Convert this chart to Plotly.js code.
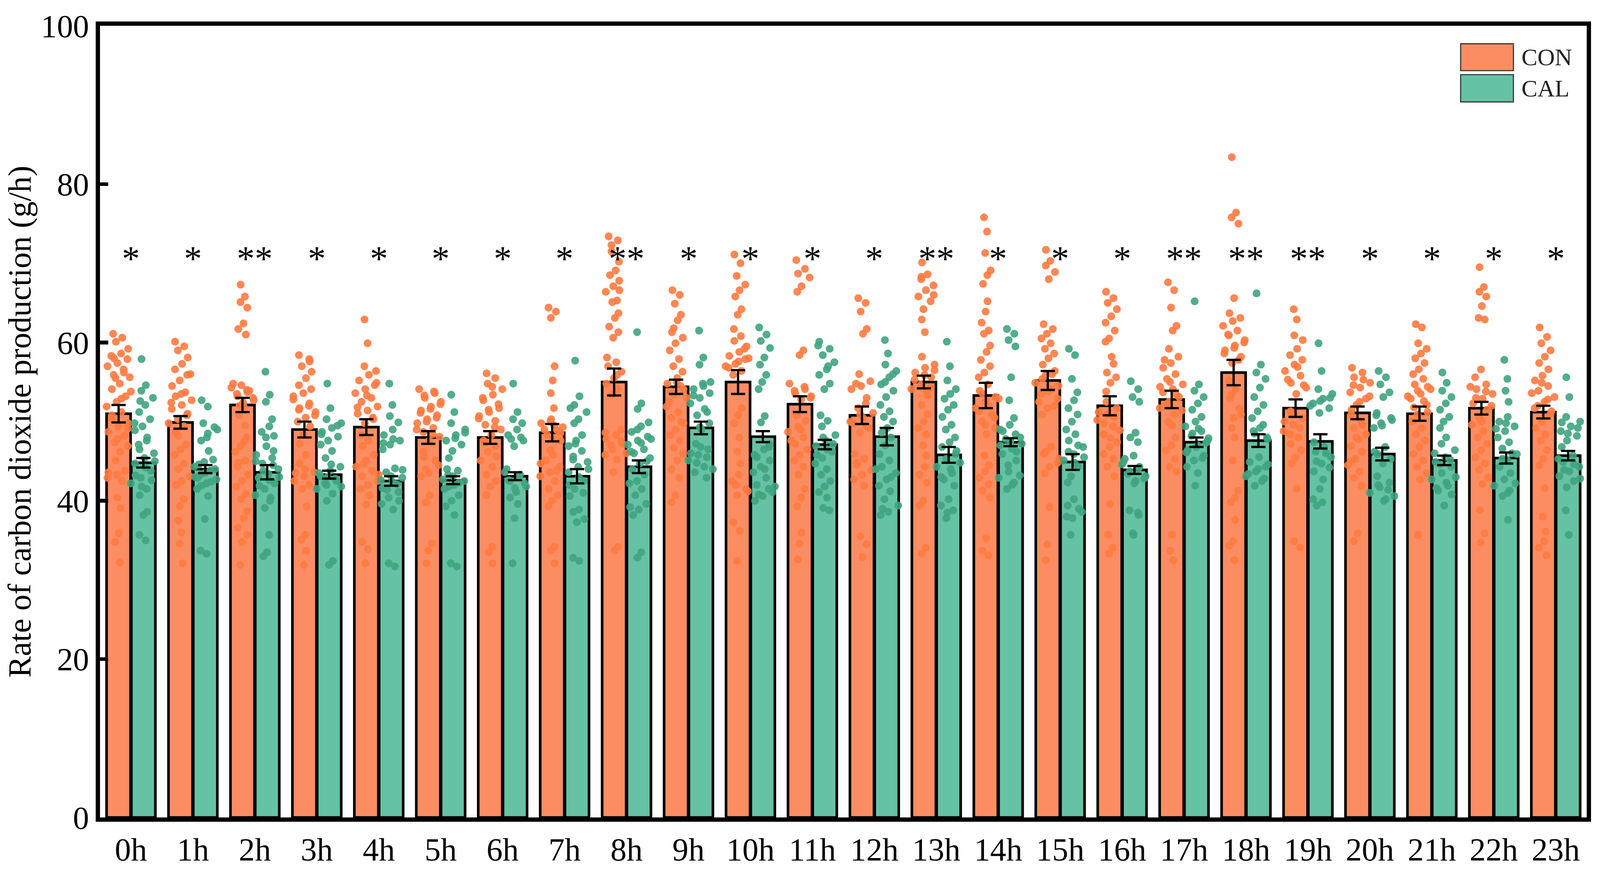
<!DOCTYPE html>
<html>
<head>
<meta charset="utf-8">
<script src="https://cdn.plot.ly/plotly-3.0.1.min.js"></script>
<style>
  html, body { margin: 0; padding: 0; background: #fff; overflow: hidden; }
</style>
</head>
<body>
<div id="chart"></div>
<script>
const hours = ['0h', '1h', '2h', '3h', '4h', '5h', '6h', '7h', '8h', '9h', '10h', '11h',
  '12h', '13h', '14h', '15h', '16h', '17h', '18h', '19h', '20h', '21h', '22h', '23h'];

// bar heights (mean) and error (SEM)
const conMean = [51.0, 49.9, 52.1, 49.0, 49.3, 48.0, 48.0, 48.6, 55.0, 54.4, 55.0, 52.2,
  50.8, 55.0, 53.3, 55.2, 52.0, 52.8, 56.2, 51.7, 51.1, 51.0, 51.7, 51.2];
const calMean = [44.8, 44.0, 43.6, 43.3, 42.5, 42.6, 43.1, 43.1, 44.3, 49.2, 48.1, 47.1,
  48.1, 45.8, 47.4, 44.9, 43.9, 47.4, 47.6, 47.5, 45.9, 45.1, 45.4, 45.7];
const conErr = [1.1, 0.8, 0.9, 1.0, 1.0, 0.8, 0.8, 1.1, 1.7, 0.9, 1.5, 1.0,
  1.1, 0.8, 1.6, 1.2, 1.2, 1.1, 1.6, 1.1, 0.8, 0.9, 0.8, 0.8];
const calErr = [0.6, 0.5, 0.9, 0.5, 0.6, 0.5, 0.5, 0.9, 0.8, 0.8, 0.7, 0.6,
  1.1, 1.0, 0.5, 1.0, 0.5, 0.6, 0.8, 0.9, 0.8, 0.6, 0.7, 0.6];
const sigMarks = ['*', '*', '**', '*', '*', '*', '*', '*', '**', '*', '*', '*',
  '*', '**', '*', '*', '*', '**', '**', '**', '*', '*', '*', '*'];

// individual observations per hour (approximate, read from the dot clouds)
const conPoints = [
  [61.1,60.6,60.1,59.2,58.6,58.3,57.9,57.4,57.0,56.6,55.9,55.6,54.8,54.1,53.2,52.5,51.9,51.2,50.3,49.8,49.4,48.7,48.2,47.4,46.9,46.2,45.1,43.8,43.3,42.9,42.5,40.4,39.1,35.9,34.8,32.2,55.5,53.8,52.9,50.8,49.1,47.8,43.6,56.2,58.0],
  [60.1,59.5,59.0,58.1,57.3,56.6,55.9,55.2,54.5,53.7,53.2,52.7,52.1,51.6,51.0,50.3,49.8,49.4,48.7,47.1,46.5,45.8,44.7,44.0,43.1,42.5,42.0,40.2,39.3,37.5,36.0,34.6,32.1,53.5,52.4,50.8,48.2,56.0],
  [67.3,65.8,65.1,64.4,62.4,61.7,61.0,54.6,54.3,53.7,53.2,52.7,51.9,50.8,48.0,46.9,46.2,45.1,44.3,43.3,42.5,41.8,40.9,40.2,38.7,37.8,36.6,35.7,34.8,31.9,54.0,53.5,53.0,52.4,54.8,53.9,52.0,49.5,47.5,44.8],
  [58.4,57.9,57.0,56.3,55.5,54.6,54.1,53.6,52.8,52.3,51.7,51.2,50.5,50.0,49.4,48.3,47.2,45.8,44.7,43.6,43.1,42.5,42.0,41.5,39.3,35.7,35.1,33.7,31.9,53.2,52.0,51.5,50.8,44.0,43.5,57.6],
  [62.9,59.9,57.0,56.4,55.9,55.2,54.6,54.1,53.6,53.0,52.5,51.9,51.4,51.0,50.3,49.8,48.3,47.6,46.9,45.8,45.1,44.3,43.8,43.1,42.5,42.0,41.5,40.7,39.5,34.8,33.9,32.1,54.9,53.3,51.8,50.5,44.6,43.3],
  [54.1,53.6,53.0,52.5,51.9,51.4,50.8,50.3,49.8,49.2,48.7,48.1,47.6,46.2,45.1,44.0,43.1,40.7,39.8,34.6,33.7,32.1,53.8,53.3,52.2,51.6,51.1,50.5,50.0,49.0,48.4,45.5,44.5,43.5],
  [56.1,55.5,54.8,54.1,53.4,52.7,51.7,51.2,50.7,50.1,49.6,49.0,48.3,47.6,46.9,46.2,45.1,44.3,43.3,42.5,41.8,40.7,34.2,33.5,32.1,54.4,53.0,52.2,51.5,50.4,49.3,47.3,45.6],
  [64.4,63.9,63.1,57.0,55.2,53.6,51.7,50.3,49.8,48.9,48.3,47.6,45.8,45.1,44.3,43.6,43.1,42.5,41.5,40.7,40.0,39.3,34.2,33.7,32.1,49.5,49.0,48.6,50.0,44.7,43.8,46.4,49.3,48.0],
  [73.4,72.9,72.3,70.2,69.1,68.5,67.8,67.1,66.4,65.3,65.1,63.7,63.1,62.0,61.3,60.6,58.1,57.5,57.0,56.3,55.5,54.8,54.1,53.4,49.0,48.3,47.8,47.2,46.5,45.8,45.2,43.6,34.2,33.7,48.6,47.5,47.0,46.0,55.9,71.5,66.6],
  [66.6,66.0,64.9,63.5,62.8,61.3,60.6,59.9,59.0,57.9,57.0,56.3,55.5,54.8,54.1,53.4,51.9,51.2,50.5,49.8,49.0,48.3,47.6,46.7,46.0,45.1,44.0,42.9,40.7,39.8,54.5,53.8,53.0,55.0,52.5,50.0,61.8],
  [71.1,70.0,68.4,67.3,66.6,65.8,64.2,63.5,61.7,60.8,60.2,59.5,58.8,58.3,57.9,57.3,57.0,56.4,55.9,51.7,50.8,49.8,48.0,46.2,44.7,43.3,42.5,41.5,40.7,37.3,36.2,32.4,58.0,57.6,56.8,59.2,42.0,41.2],
  [70.4,69.3,68.7,68.2,67.1,66.4,59.0,58.4,54.8,54.1,53.6,53.2,52.8,50.8,50.1,49.4,48.7,48.0,47.2,46.5,45.8,45.1,44.3,43.3,41.5,40.4,39.3,36.0,34.6,32.6,54.4,53.9,53.0,49.0,47.6],
  [65.6,65.0,63.9,61.7,61.1,56.0,55.1,54.5,54.1,52.3,51.7,51.1,50.45,49.8,49.2,48.6,45.9,45.3,44.5,43.9,43.3,42.7,41.9,35.5,34.5,32.9,54.8,53.0,50.9,50.0,49.5,44.8],
  [70.1,68.6,68.0,67.2,66.6,65.8,65.2,64.2,62.9,61.3,58.2,57.2,56.8,56.2,55.6,54.7,54.1,53.3,52.1,50.9,50.0,49.2,48.4,47.0,45.7,44.3,43.3,42.3,40.0,39.4,34.1,33.3,56.5,55.9,55.3,54.3,68.3,66.0,53.8],
  [75.8,74.0,71.3,69.1,68.5,67.4,65.2,63.9,62.5,61.5,61.1,59.6,58.8,57.8,57.0,56.2,55.6,54.7,53.9,53.1,52.5,51.7,50.9,50.0,49.2,48.4,45.7,44.5,43.7,42.9,42.1,41.3,40.4,35.3,33.7,33.1,53.5,52.9,52.0,51.3,50.5,49.6],
  [71.7,70.3,69.7,68.9,68.0,62.3,61.7,61.1,60.5,59.9,59.2,58.6,58.0,57.2,56.4,55.8,54.9,54.1,53.5,52.9,51.7,50.9,46.8,45.9,45.3,44.3,43.5,39.2,34.5,32.5,56.0,55.4,54.5,53.8,52.5,52.0,46.2,44.8],
  [66.4,65.6,65.0,64.2,63.3,62.5,61.5,60.5,60.1,58.2,56.2,55.6,54.9,52.5,51.7,50.9,50.2,49.4,48.4,47.4,46.8,45.9,45.3,44.3,43.1,39.6,35.7,34.1,33.3,51.2,50.6,49.8,48.9,47.9,53.8,57.3],
  [67.6,66.6,64.4,62.1,61.5,59.2,58.2,57.4,56.8,56.0,55.4,54.7,54.1,53.7,53.1,52.5,51.7,50.9,50.0,48.0,47.0,46.4,45.3,44.3,43.7,35.7,33.7,32.5,55.0,54.4,53.4,52.2,51.4,49.5,57.8],
  [83.4,76.4,75.8,75.0,65.6,63.7,63.1,62.7,62.1,61.5,60.9,60.3,59.6,59.0,58.2,57.4,55.2,54.1,52.9,51.7,50.45,49.2,48.0,45.1,41.3,40.4,39.8,37.6,34.9,34.3,32.5,61.0,60.0,59.3,58.6,57.8,53.5,50.9],
  [64.2,62.9,60.9,60.3,59.2,58.4,57.8,57.2,56.4,55.8,54.9,54.3,53.5,51.3,50.45,49.6,48.8,48.0,47.2,46.4,45.5,44.7,41.5,34.9,34.1,56.9,55.3,54.6,50.9,50.0,49.2,48.4],
  [56.8,56.2,55.6,54.9,54.3,53.7,52.9,52.1,50.9,50.0,49.2,48.4,47.8,46.9,46.2,45.3,44.5,43.7,42.9,41.9,35.9,34.9,55.3,54.6,53.2,52.5,51.5,49.6,48.0,45.0],
  [62.3,61.9,59.9,59.2,58.6,58.0,57.4,56.6,56.0,55.4,54.7,54.1,53.5,52.9,52.1,50.9,50.0,49.2,48.4,47.6,46.8,45.9,45.1,44.3,43.5,42.7,35.7,54.4,53.9,53.2,52.6,51.8,51.2],
  [69.5,67.0,66.4,65.8,64.6,63.1,62.9,56.6,55.6,54.7,54.1,53.5,52.9,52.3,51.5,50.45,49.6,48.8,48.0,47.2,46.4,45.5,44.7,43.9,42.9,42.1,38.8,35.9,34.7,54.4,53.8,53.0,52.0,50.0],
  [61.9,60.7,59.9,59.0,58.2,57.4,56.6,55.8,55.2,54.5,53.9,53.1,52.5,51.7,50.9,50.0,49.2,48.4,47.6,46.4,45.3,44.5,41.6,38.0,36.1,34.9,34.1,33.1,54.9,53.6,52.8,52.0,51.3]
];
const calPoints = [
  [57.9,54.6,53.9,53.0,52.1,51.2,50.3,49.4,48.9,48.0,47.1,46.0,45.4,44.7,43.8,42.9,42.2,41.5,40.7,38.6,38.2,35.7,35.0,46.5,45.0,44.2,43.2,42.6,41.8,49.8,47.6,52.6],
  [52.7,51.9,49.8,49.0,48.5,47.6,46.3,44.9,44.3,43.8,43.3,42.7,42.2,41.5,40.6,37.7,33.7,33.3,44.6,44.0,43.5,43.0,42.4,41.9,49.3,48.0,42.9,45.2],
  [56.3,53.4,52.5,50.3,49.4,48.7,48.2,46.9,45.8,45.4,44.7,44.0,43.4,42.9,42.2,41.5,40.7,40.0,39.1,35.7,33.5,33.0,44.5,43.8,43.0,42.6,41.9,46.3,48.0,45.0,40.4],
  [54.8,51.7,50.3,49.8,49.2,48.7,48.1,47.6,47.1,46.3,45.4,44.3,43.8,43.1,42.5,42.0,41.5,40.9,40.0,32.4,31.9,43.5,42.8,42.2,41.8,44.6,48.4,49.5,43.0],
  [54.8,52.1,50.7,49.9,49.0,48.3,47.6,47.1,46.5,44.1,43.6,42.9,42.4,41.6,41.1,40.4,39.6,38.9,32.1,31.7,43.1,42.6,42.1,41.4,43.9,47.8,47.3,40.0],
  [53.4,51.2,49.8,49.0,48.3,47.6,47.1,46.3,45.4,43.8,43.3,42.5,42.0,41.5,40.7,40.0,39.3,38.2,32.1,31.7,43.1,42.7,42.3,41.8,48.6,47.9,44.0],
  [54.8,51.2,50.3,49.8,49.0,48.3,47.6,46.9,44.0,43.3,42.5,41.8,41.1,40.4,39.6,37.8,32.1,43.0,42.6,42.2,41.6,43.6,48.0,47.8],
  [57.7,53.2,52.1,51.2,50.3,49.8,48.3,47.6,46.9,46.3,45.6,44.9,44.3,43.6,42.5,41.5,40.6,38.9,38.6,37.7,37.3,32.8,32.4,45.2,44.0,43.0,42.0,41.0,47.2,51.7],
  [61.3,52.3,51.6,49.9,49.4,48.7,48.1,47.6,47.1,46.5,46.0,45.4,44.7,44.0,43.3,42.5,42.2,41.5,40.7,39.6,38.9,38.2,33.5,32.8,47.8,47.3,46.2,45.0,49.0,39.2],
  [61.5,58.1,57.2,55.0,54.5,54.1,53.6,53.0,52.3,51.6,50.8,49.8,49.0,47.2,46.5,45.8,45.1,44.3,43.6,42.9,46.8,46.0,45.5,44.8,44.0,54.8,53.3,51.2,49.3],
  [61.9,61.0,60.2,59.3,58.1,57.2,55.9,55.0,54.1,50.7,49.9,47.2,46.5,45.8,45.1,44.3,43.6,42.9,42.0,41.1,40.6,40.0,41.5,40.8,41.8,44.0,45.5,46.8],
  [60.1,59.2,58.4,57.5,56.6,55.9,54.8,54.1,50.8,50.1,49.4,48.3,47.6,46.9,46.2,45.4,44.7,44.0,43.3,42.5,41.8,41.1,40.4,39.1,38.8,46.5,45.8,47.2,48.0,59.6,57.0],
  [60.3,58.6,57.2,56.4,55.6,54.7,53.9,53.1,52.1,51.3,50.6,50.0,49.2,48.6,48.0,47.0,45.9,45.1,44.3,43.5,42.7,41.9,41.2,40.2,39.4,38.6,38.2,56.0,55.0,44.0,43.0,39.0],
  [60.1,57.0,55.2,54.1,53.5,52.9,52.1,51.5,50.6,49.6,49.0,48.0,47.4,46.8,45.9,45.3,44.3,43.5,42.7,41.9,40.2,39.4,38.8,37.8,44.8,44.0,43.0,46.3,38.5],
  [61.7,61.1,60.3,59.5,55.6,52.7,50.45,49.6,49.0,48.4,47.8,47.2,46.6,45.9,45.1,43.7,42.9,42.3,41.5,48.0,47.5,47.0,46.2,44.5,43.2,42.0,48.8],
  [59.2,58.4,55.4,53.7,52.7,51.7,50.9,50.0,49.0,48.4,47.6,46.8,45.9,45.1,44.3,43.1,42.3,40.2,39.4,38.6,37.8,35.7,47.0,46.2,45.5,44.8,38.0,39.0],
  [55.1,54.1,53.1,52.5,48.6,48.0,47.4,45.7,44.9,44.3,43.7,43.1,42.5,38.8,38.2,35.7,44.6,44.0,43.4,42.8,42.2,45.3,38.5,35.9],
  [65.2,54.7,53.9,53.1,52.3,51.5,50.6,50.0,49.4,48.8,48.2,47.6,47.0,46.4,45.7,45.1,44.3,43.5,41.9,47.3,46.8,46.1,45.4,48.5,47.9,49.1],
  [66.2,57.2,56.2,55.4,54.3,53.1,52.1,51.3,50.45,49.6,48.8,48.0,45.5,44.9,44.3,43.7,43.1,42.5,41.9,44.6,44.0,43.4,42.8,48.5,47.8,49.2],
  [59.9,56.4,54.1,53.5,52.9,52.3,51.7,51.1,47.4,46.8,46.2,45.5,44.7,43.7,42.7,41.5,40.2,39.8,39.4,53.0,52.6,52.0,46.0,45.0,44.2],
  [56.4,55.6,54.7,53.7,53.1,51.1,50.45,49.8,49.2,46.8,45.9,45.3,44.7,43.1,42.3,41.7,41.0,40.2,50.8,50.2,49.5,46.2,41.4,42.0,40.6,40.0],
  [56.2,54.9,53.9,53.1,52.3,51.5,50.6,50.0,49.2,48.0,47.2,46.4,45.5,44.9,44.3,43.5,42.7,41.9,41.3,40.8,39.4,46.0,45.2,44.6,43.0,42.3,41.6],
  [57.8,55.4,53.9,52.5,50.6,50.0,49.4,48.8,48.0,47.4,46.6,45.9,45.1,44.3,43.5,42.7,41.9,41.3,40.6,37.6,49.8,49.1,46.0,45.3,42.2,41.0],
  [55.6,53.1,50.6,50.0,49.4,48.8,48.2,47.6,46.8,45.7,44.9,44.3,43.7,43.1,42.5,41.7,38.8,35.7,49.9,49.2,48.5,45.3,44.6,43.9,42.8]
];

const CON_BAR = '#FC8D62', CAL_BAR = '#66C2A5';
const CON_DOT = '#FF7A40', CAL_DOT = '#3FA47F';
const FONT = 'Liberation Serif, Times New Roman, serif';

// the design is measured on a 4275 x 2225 canvas; map it onto the real viewport
const W = window.innerWidth || 4275;
const H = window.innerHeight || 2225;
const sx = W / 4275, sy = H / 2225;
const s = Math.min(sx, sy);
const px = v => v * s;

const idx = hours.map((_, i) => i);
const slot = 0.2; // offset of each bar from the hour centre

// spread dots sideways, wider where they pile up (beeswarm-ish)
function swarm(groups, side) {
  const xs = [], ys = [];
  groups.forEach((vals, i) => {
    vals.forEach((v, k) => {
      const n = vals.filter(w => Math.abs(w - v) < 1.2).length;
      const half = Math.min(0.21, 0.04 * n);
      const f = (k * 0.618034 + 0.13) % 1;
      xs.push(i + side * slot + (f - 0.5) * 2 * half);
      ys.push(v);
    });
  });
  return { xs, ys };
}

const conSw = swarm(conPoints, -1);
const calSw = swarm(calPoints, 1);

const traces = [
  {
    type: 'bar', name: 'CON', x: idx, y: conMean,
    marker: { color: CON_BAR, line: { color: '#000', width: px(7) } },
    hoverinfo: 'skip',
  },
  {
    type: 'bar', name: 'CAL', x: idx, y: calMean,
    marker: { color: CAL_BAR, line: { color: '#000', width: px(7) } },
    hoverinfo: 'skip',
  },
  {
    type: 'scatter', mode: 'markers', x: conSw.xs, y: conSw.ys, showlegend: false,
    marker: { color: CON_DOT, size: px(21), opacity: 0.9, line: { width: 0 } },
  },
  {
    type: 'scatter', mode: 'markers', x: calSw.xs, y: calSw.ys, showlegend: false,
    marker: { color: CAL_DOT, size: px(21), opacity: 0.9, line: { width: 0 } },
  },
  // error bars drawn last so they sit on top of the dots
  {
    type: 'scatter', mode: 'markers', showlegend: false,
    x: idx.map(i => i - slot), y: conMean,
    marker: { size: 1, opacity: 0 },
    error_y: { type: 'data', array: conErr, visible: true, color: '#000', thickness: px(6), width: px(19) },
  },
  {
    type: 'scatter', mode: 'markers', showlegend: false,
    x: idx.map(i => i + slot), y: calMean,
    marker: { size: 1, opacity: 0 },
    error_y: { type: 'data', array: calErr, visible: true, color: '#000', thickness: px(6), width: px(19) },
  },
];

const annotations = sigMarks.map((m, i) => ({
  x: i, y: 70.6, xref: 'x', yref: 'y', text: m, showarrow: false,
  font: { family: FONT, size: px(96), color: '#000' },
}));

// legend drawn by hand so the swatches can be large rectangles
const legendRows = [
  { label: 'CON', color: CON_BAR, y0: 0.9433, y1: 0.9773 },
  { label: 'CAL', color: CAL_BAR, y0: 0.9038, y1: 0.9383 },
];
const shapes = legendRows.map(r => ({
  type: 'rect', xref: 'paper', yref: 'paper',
  x0: 0.9152, x1: 0.9507, y0: r.y0, y1: r.y1,
  fillcolor: r.color, line: { color: '#333', width: px(3) },
}));
legendRows.forEach(r => annotations.push({
  xref: 'paper', yref: 'paper', x: 0.9557, y: (r.y0 + r.y1) / 2,
  xanchor: 'left', yanchor: 'middle', text: r.label, showarrow: false,
  font: { family: FONT, size: px(64), color: '#222' },
}));

const axisFont = { family: FONT, size: px(86), color: '#000' };

const layout = {
  width: W,
  height: H,
  margin: { l: 267 * sx, r: 36 * sx, t: 66 * sy, b: 132 * sy, pad: 0 },
  paper_bgcolor: '#fff',
  plot_bgcolor: '#fff',
  font: axisFont,
  showlegend: false,
  barmode: 'group',
  bargap: 0.2,
  bargroupgap: 0.03,
  xaxis: {
    range: [-0.5, 23.5],
    tickvals: idx,
    ticktext: hours,
    ticks: '',
    showgrid: false,
    zeroline: false,
    showline: true,
    linewidth: px(12),
    linecolor: '#000',
    mirror: true,
    ticklabelstandoff: 0,
    tickfont: axisFont,
  },
  yaxis: {
    range: [0, 100],
    dtick: 20,
    ticks: 'inside',
    ticklen: px(22),
    tickwidth: px(10),
    tickcolor: '#000',
    showgrid: false,
    zeroline: false,
    showline: true,
    linewidth: px(12),
    linecolor: '#000',
    mirror: true,
    ticklabelstandoff: px(12),
    tickfont: axisFont,
    title: {
      text: 'Rate of carbon dioxide production (g/h)',
      font: axisFont,
      standoff: px(4),
    },
  },
  annotations,
  shapes,
};

Plotly.newPlot('chart', traces, layout, { displayModeBar: false, staticPlot: true });
</script>
</body>
</html>
